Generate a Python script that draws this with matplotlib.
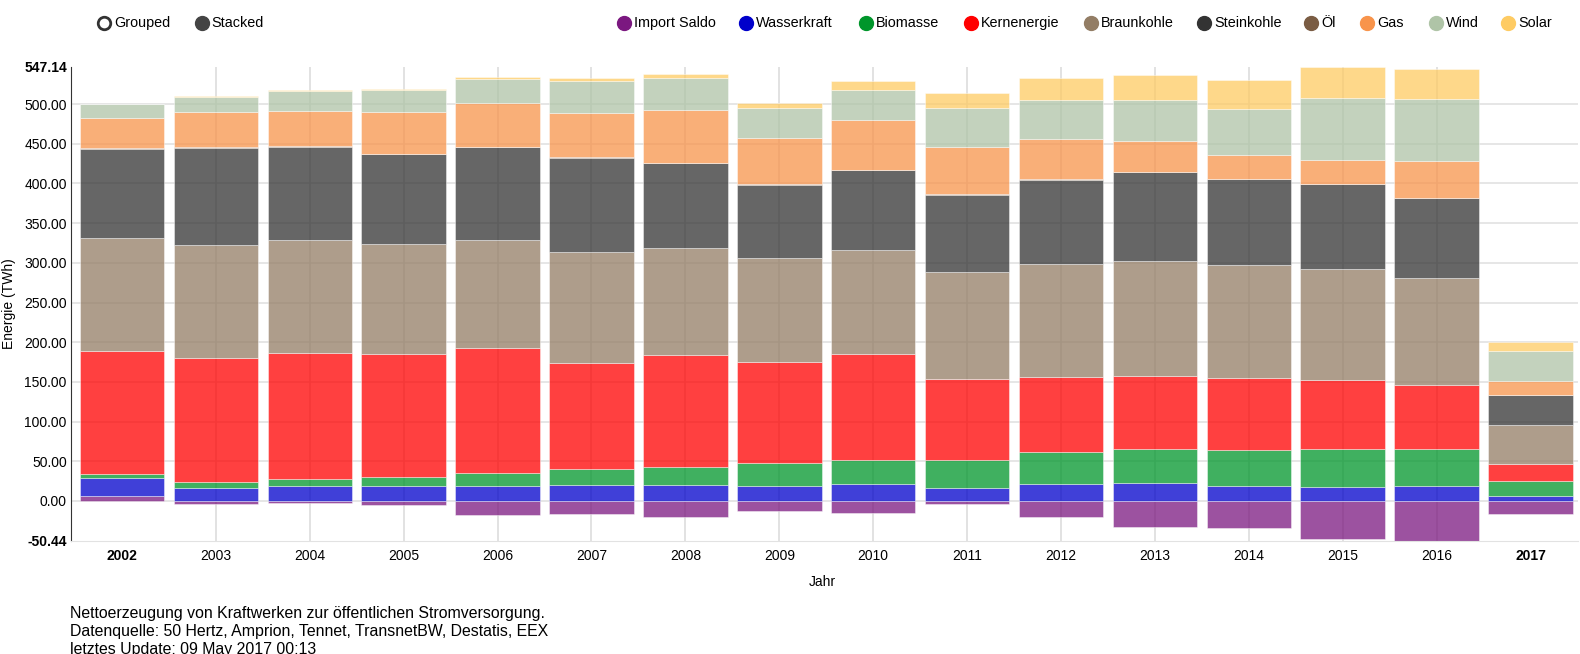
import matplotlib
matplotlib.use("Agg")
import matplotlib.pyplot as plt
import numpy as np

plt.rcParams['font.family'] = ['Liberation Sans', 'DejaVu Sans']

years = ['2002', '2003', '2004', '2005', '2006', '2007', '2008', '2009',
         '2010', '2011', '2012', '2013', '2014', '2015', '2016', '2017']

import_saldo = [6.3, -3.4, -2.5, -4.6, -17.2, -16.8, -20.2, -12.6,
                -15.1, -3.8, -20.6, -32.4, -34.4, -48.3, -50.4, -16.8]
wasserkraft = [23.1, 16.8, 19.3, 19.3, 19.3, 20.5, 19.8, 18.5,
               21.0, 16.8, 21.0, 22.3, 18.9, 18.0, 18.9, 6.7]
biomasse = [4.6, 7.1, 8.0, 10.9, 15.6, 19.8, 23.4, 29.0,
            31.0, 34.8, 41.1, 42.8, 45.0, 47.5, 47.0, 18.5]
kernenergie = [155.3, 156.6, 159.1, 154.9, 158.2, 133.5, 140.7, 127.6,
               133.1, 102.4, 94.1, 91.9, 91.0, 86.9, 79.8, 21.8]
braunkohle = [141.5, 141.9, 142.3, 138.6, 135.6, 139.4, 134.7, 130.9,
              131.0, 134.8, 142.7, 145.6, 142.3, 139.8, 135.2, 48.7]
steinkohle = [112.2, 122.2, 117.1, 112.9, 116.7, 119.2, 106.7, 92.4,
              100.4, 96.6, 105.8, 111.4, 107.9, 106.7, 100.3, 37.4]
oel = [1.2, 1.0, 1.0, 1.0, 1.0, 1.0, 1.0, 1.0,
       1.0, 0.8, 0.8, 0.8, 0.8, 0.8, 0.8, 0.3]
gas = [38.6, 44.7, 44.4, 52.7, 54.5, 55.6, 66.5, 57.4,
       62.7, 59.6, 50.0, 39.0, 30.2, 29.4, 46.2, 17.4]
wind = [16.8, 18.9, 25.6, 27.3, 31.0, 40.4, 40.3, 38.5,
        37.8, 48.8, 49.9, 51.6, 57.6, 78.8, 78.1, 38.1]
solar = [0.2, 0.4, 1.1, 1.3, 2.5, 3.0, 4.7, 6.3,
         11.4, 19.6, 27.0, 31.5, 36.5, 39.1, 37.8, 11.4]

names = ['Import Saldo', 'Wasserkraft', 'Biomasse', 'Kernenergie', 'Braunkohle',
         'Steinkohle', 'Öl', 'Gas', 'Wind', 'Solar']
colors = ['#7b1880', '#0000cb', '#00962b', '#ff0000', '#937d65',
          '#333333', '#7a5c43', '#f8944b', '#afc4a7', '#fecb63']
series = [import_saldo, wasserkraft, biomasse, kernenergie, braunkohle,
          steinkohle, oel, gas, wind, solar]

y_min, y_max = -50.44, 547.14

fig = plt.figure(figsize=(15.8, 6.54), dpi=100)
W, H = 1580, 654
ax = fig.add_axes([71 / W, 1 - 541 / H, (1578 - 71) / W, (541 - 66.7) / H])

x = np.arange(len(years))
pos_bottom = np.zeros(len(years))
neg_bottom = np.zeros(len(years))
for vals, col in zip(series, colors):
    v = np.array(vals)
    bottom = np.where(v >= 0, pos_bottom, neg_bottom)
    ax.bar(x, v, bottom=bottom, width=0.9, color=col, alpha=0.75,
           edgecolor='white', linewidth=0.4, zorder=2)
    pos_bottom += np.where(v >= 0, v, 0)
    neg_bottom += np.where(v < 0, v, 0)

ax.set_xlim(-0.543, len(years) - 0.494)
ax.set_ylim(y_min, y_max)

# gitter
for t in np.arange(0, 501, 50):
    ax.axhline(t, color='#e2e2e2', linewidth=1.2, zorder=1)
for i in range(1, len(years) - 1):
    ax.axvline(i, color='#dddddd', linewidth=1.2, zorder=1)

yt = [y_min] + list(np.arange(0, 501, 50)) + [y_max]
ax.set_yticks(yt)
ax.set_yticklabels(['%.2f' % t for t in yt], fontsize=10)
for lab in (ax.get_yticklabels()[0], ax.get_yticklabels()[-1]):
    lab.set_fontweight('bold')
ax.set_xticks(x)
ax.set_xticklabels(years, fontsize=10)
for lab in (ax.get_xticklabels()[0], ax.get_xticklabels()[-1]):
    lab.set_fontweight('bold')
ax.tick_params(axis='y', length=0, pad=3)
ax.tick_params(axis='x', length=0, pad=6)

for s in ['top', 'right']:
    ax.spines[s].set_visible(False)
ax.spines['left'].set_color('#333333')
ax.spines['bottom'].set_color('#e2e2e2')

# legende + texte
lg = fig.add_axes([0, 0, 1, 1], facecolor='none')
lg.set_xlim(0, W)
lg.set_ylim(H, 0)
lg.axis('off')

lg.text(9.5, 304, 'Energie (TWh)', fontsize=10, rotation=90, ha='center', va='center')
lg.text(822, 582, 'Jahr', fontsize=10, ha='center', va='center')

lg.plot(104, 23, 'o', ms=9, mfc='white', mec='#333333', mew=2)
lg.text(114, 23, 'Grouped', fontsize=10.4, va='center')
lg.plot(202, 23, 'o', ms=10, mfc='#444444', mec='#444444')
lg.text(211, 23, 'Stacked', fontsize=10.4, va='center')

leg_x = [624, 746, 866, 971, 1091, 1204, 1311, 1367, 1436, 1508]
for lx, name, col in zip(leg_x, names, colors):
    lg.plot(lx, 23, 'o', ms=10, mfc=col, mec=col)
    lg.text(lx + 10, 23, name, fontsize=10.4, va='center')

captions = ['Nettoerzeugung von Kraftwerken zur öffentlichen Stromversorgung.',
            'Datenquelle: 50 Hertz, Amprion, Tennet, TransnetBW, Destatis, EEX',
            'letztes Update: 09 May 2017 00:13']
for i, c in enumerate(captions):
    lg.text(70, 618 + i * 17.8, c, fontsize=11.4, va='baseline')

fig.savefig('out.png', dpi=100)
